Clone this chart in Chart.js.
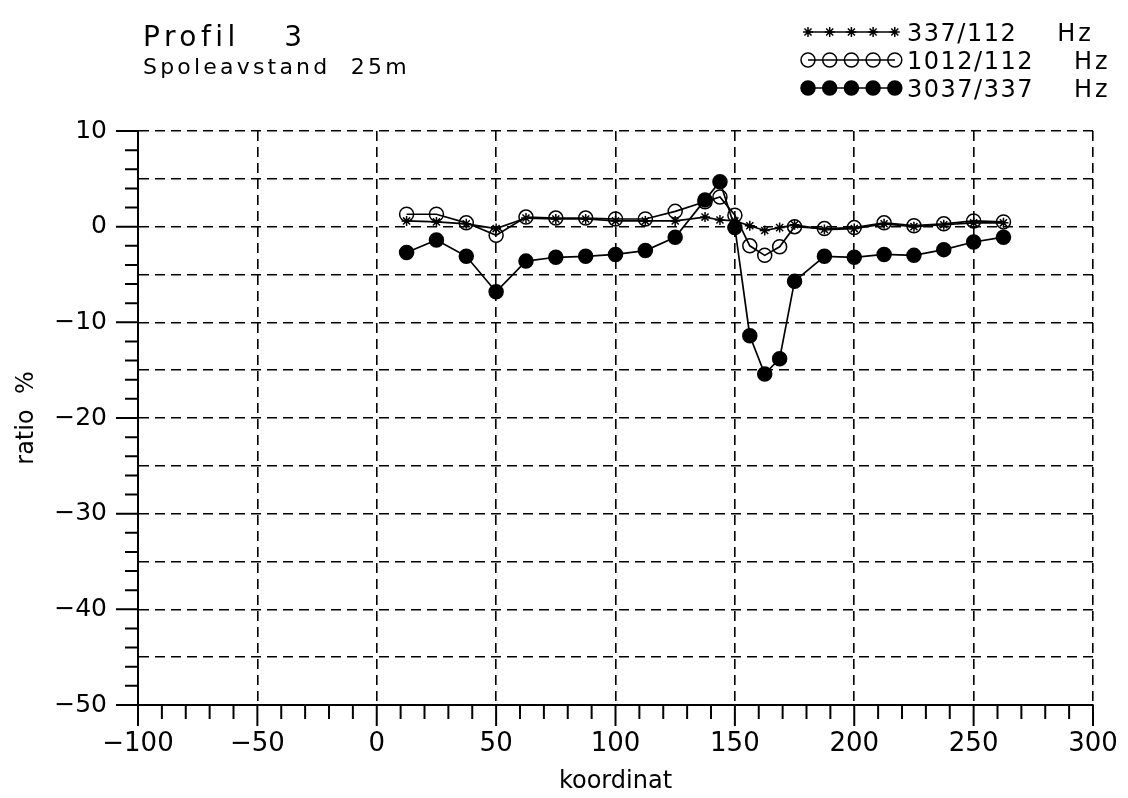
<!DOCTYPE html>
<html>
<head>
<meta charset="utf-8">
<script src="https://cdn.jsdelivr.net/npm/chart.js@4"></script>
<style>
  html, body { margin: 0; padding: 0; background: #fff; }
  canvas { display: block; }
</style>
</head>
<body>
<canvas id="profil" width="1128" height="798"></canvas>
<script>
// Måledata, profil 3 (avlest fra plott)
const koordinat = [12.5, 25, 37.5, 50, 62.5, 75, 87.5, 100, 112.5, 125, 137.5, 143.75,
                   150, 156.25, 162.5, 168.75, 175, 187.5, 200, 212.5, 225, 237.5, 250, 262.5];
const ratio337  = [0.6, 0.5, 0.3, -0.2, 0.9, 0.8, 0.8, 0.6, 0.6, 0.6, 1.0, 0.7,
                   0.6, 0.1, -0.4, -0.1, 0.2, -0.3, -0.2, 0.3, 0.0, 0.2, 0.4, 0.4];
const ratio1012 = [1.3, 1.3, 0.4, -0.9, 1.0, 0.9, 0.9, 0.8, 0.8, 1.6, 2.6, 3.1,
                   1.2, -2.0, -3.0, -2.1, 0.0, -0.2, -0.1, 0.4, 0.1, 0.3, 0.6, 0.5];
const ratio3037 = [-2.7, -1.4, -3.1, -6.8, -3.6, -3.2, -3.1, -2.9, -2.5, -1.1, 2.8, 4.7,
                   -0.1, -11.4, -15.4, -13.8, -5.7, -3.1, -3.2, -2.9, -3.0, -2.4, -1.6, -1.1];
const serieNavn = ['337/112 Hz', '1012/112 Hz', '3037/337 Hz'];
const xEtiketter = [-100, -50, 0, 50, 100, 150, 200, 250, 300];
const yEtiketter = [10, 0, -10, -20, -30, -40, -50];
const tittel = 'Profil 3';
const undertittel = 'Spoleavstand  25m';

const FONT = '"DejaVu Sans", "Liberation Sans", sans-serif';
Chart.defaults.font.family = FONT;
Chart.defaults.color = '#000';

const fmt = v => (v < 0 ? '\u2212' + Math.abs(v) : String(v));
const punkter = arr => koordinat.map((x, i) => ({ x: x, y: arr[i] }));

function tegnMerke(ctx, stil, x, y, r, fyll) {
  ctx.beginPath();
  if (stil === 'star') {
    for (let k = 0; k < 4; k++) {
      const a = k * Math.PI / 4;
      ctx.moveTo(x - Math.cos(a) * r, y - Math.sin(a) * r);
      ctx.lineTo(x + Math.cos(a) * r, y + Math.sin(a) * r);
    }
    ctx.stroke();
  } else {
    ctx.arc(x, y, r, 0, Math.PI * 2);
    if (fyll) ctx.fill();
    ctx.stroke();
  }
}

// små og store tikkmerker (utenfor aksene)
const akseMerker = {
  id: 'akseMerker',
  afterDraw(chart) {
    const { ctx, chartArea: a, scales: { x, y } } = chart;
    ctx.save();
    ctx.strokeStyle = '#000';
    ctx.lineWidth = 2;
    ctx.beginPath();
    y.ticks.forEach(t => {
      const v = Math.round(t.value);
      if (v % 2 !== 0) return;
      const py = y.getPixelForValue(v);
      const len = v % 10 === 0 ? 22 : 13;
      ctx.moveTo(a.left - len, py); ctx.lineTo(a.left, py);
    });
    x.ticks.forEach(t => {
      const v = Math.round(t.value);
      const px = x.getPixelForValue(v);
      const len = v % 50 === 0 ? 21 : 14;
      ctx.moveTo(px, a.bottom); ctx.lineTo(px, a.bottom + len);
    });
    ctx.stroke();
    ctx.restore();
  }
};

// tittel og tegnforklaring
const topptekst = {
  id: 'topptekst',
  afterDraw(chart) {
    const ctx = chart.ctx;
    ctx.save();
    ctx.fillStyle = '#000';
    ctx.strokeStyle = '#000';
    ctx.textBaseline = 'alphabetic';
    ctx.textAlign = 'left';

    ctx.font = '28px ' + FONT;
    ctx.letterSpacing = '4.5px';
    ctx.wordSpacing = '31px';
    ctx.fillText(tittel, 143, 46);
    ctx.wordSpacing = '0px';

    ctx.font = '22px ' + FONT;
    ctx.letterSpacing = '3.2px';
    ctx.fillText(undertittel, 143, 74);

    chart.data.datasets.forEach((ds, i) => {
      const yy = 32 + i * 28;
      ctx.lineWidth = 1.5;
      ctx.beginPath();
      ctx.moveTo(808, yy); ctx.lineTo(895, yy);
      ctx.stroke();
      for (let k = 0; k < 5; k++) {
        const xx = 808 + k * 21.7;
        const fyll = ds.pointBackgroundColor === '#000';
        tegnMerke(ctx, ds.pointStyle, xx, yy, ds.pointStyle === 'star' ? 5 : 7, fyll);
      }
      const deler = ds.label.split(' ');
      ctx.font = '24px ' + FONT;
      ctx.letterSpacing = '1.5px';
      ctx.fillText(deler[0], 907, yy + 9);
      const w = ctx.measureText(deler[0]).width;
      ctx.letterSpacing = '3px';
      ctx.fillText(deler[1], 907 + w + 40, yy + 9);
    });
    ctx.restore();
  }
};

const felles = { showLine: true, borderColor: '#000', borderWidth: 1.7, tension: 0,
                 pointBorderColor: '#000', pointBorderWidth: 1.5 };

new Chart(document.getElementById('profil'), {
  type: 'scatter',
  data: {
    datasets: [
      Object.assign({ label: serieNavn[0], data: punkter(ratio337), pointStyle: 'star',
        pointRadius: 5, pointBackgroundColor: '#000', order: 1 }, felles),
      Object.assign({ label: serieNavn[1], data: punkter(ratio1012), pointStyle: 'circle',
        pointRadius: 7, pointBackgroundColor: 'rgba(0,0,0,0)', order: 2 }, felles),
      Object.assign({ label: serieNavn[2], data: punkter(ratio3037), pointStyle: 'circle',
        pointRadius: 7, pointBackgroundColor: '#000', order: 0 }, felles)
    ]
  },
  options: {
    responsive: false,
    animation: false,
    devicePixelRatio: 1,
    layout: { padding: { top: 131, right: 35, left: 0, bottom: 0 } },
    plugins: { legend: { display: false }, tooltip: { enabled: false } },
    scales: {
      x: {
        type: 'linear', min: -100, max: 300,
        ticks: { stepSize: 10, autoSkip: false, maxRotation: 0, padding: 4,
                 font: { size: 26 },
                 callback: v => xEtiketter.includes(Math.round(v)) ? fmt(Math.round(v)) : '' },
        grid: { color: c => (c.tick && Math.round(c.tick.value) % 50 === 0) ? '#000' : 'rgba(0,0,0,0)',
                lineWidth: 1.6, tickLength: 20, tickColor: 'rgba(0,0,0,0)' },
        border: { color: '#000', width: 2, dash: [10, 6] },
        title: { display: true, text: 'koordinat', font: { size: 24 }, padding: { top: 0, bottom: 2 } },
        afterFit: s => { s.height = 93; }
      },
      y: {
        type: 'linear', min: -50, max: 10,
        ticks: { stepSize: 1, autoSkip: false, padding: 4, font: { size: 25 },
                 callback: v => yEtiketter.includes(Math.round(v)) ? fmt(Math.round(v)) : '' },
        grid: { color: c => (c.tick && Math.round(c.tick.value) % 5 === 0) ? '#000' : 'rgba(0,0,0,0)',
                lineWidth: 1.6, tickLength: 27, tickColor: 'rgba(0,0,0,0)' },
        border: { color: '#000', width: 2, dash: [10, 6] },
        title: { display: true, text: 'ratio  %', font: { size: 24 }, padding: { top: 12, bottom: 0 } },
        afterFit: s => { s.width = 138; }
      }
    }
  },
  plugins: [akseMerker, topptekst]
});
</script>
</body>
</html>
